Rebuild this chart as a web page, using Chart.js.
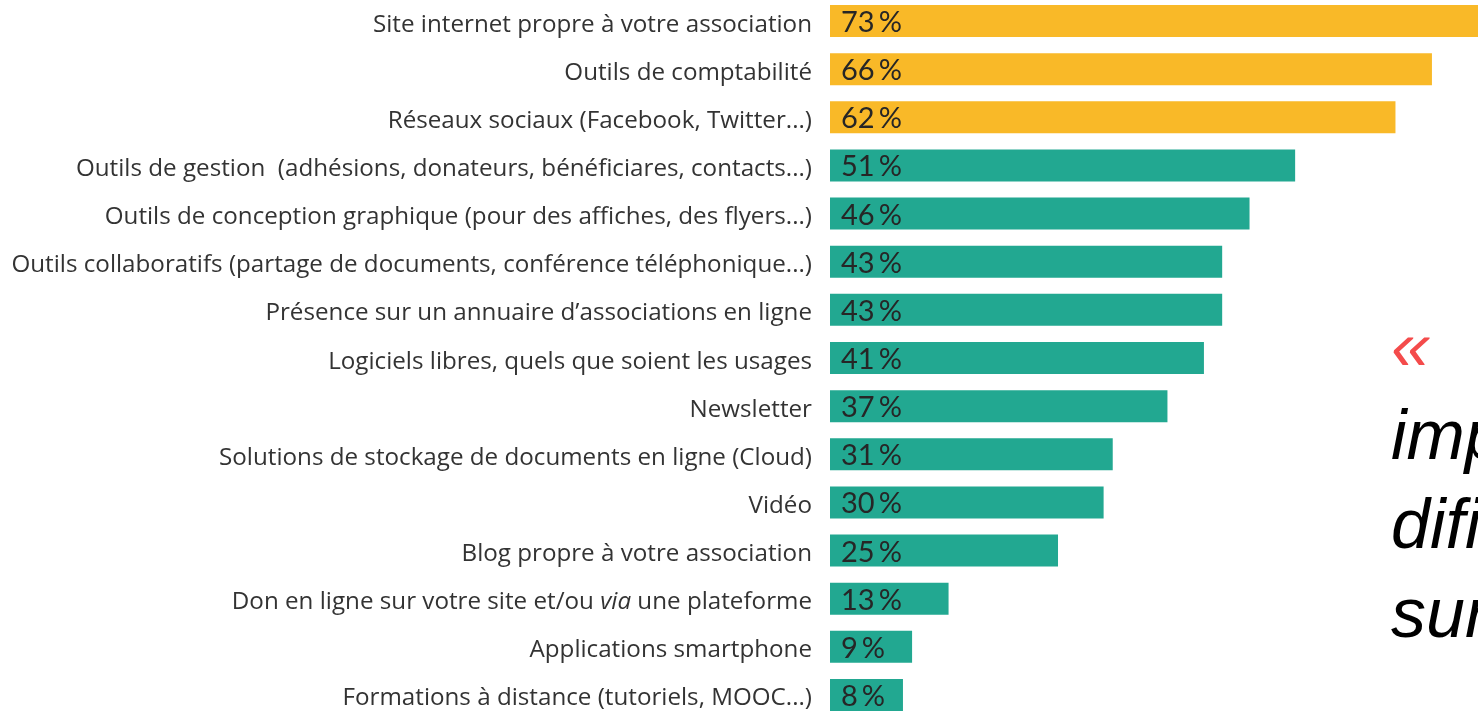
<!DOCTYPE html>
<html>
<head>
    <title>Outils numériques des associations</title>
    <script src="https://cdn.jsdelivr.net/npm/chart.js"></script>
    <style>
        html, body {
            margin: 0;
            padding: 0;
            background-color: #ffffff;
            overflow: hidden;
            width: 1478px;
            height: 711px;
        }
        .chart-container {
            position: absolute;
            left: 0;
            top: -3px;
            width: 1478px;
            height: 722px;
        }
        .quote {
            position: absolute;
            left: 1391px;
            top: 302px;
            font-family: "Liberation Sans", Arial, sans-serif;
            font-style: italic;
            font-size: 70px;
            line-height: 89px;
            color: #000000;
            white-space: nowrap;
        }
        .quote .mark {
            color: #f44b4b;
        }
    </style>
</head>
<body>
    <div class="chart-container">
        <canvas id="toolsChart"></canvas>
    </div>
    <div class="quote">
        <div><span class="mark">«</span>&nbsp;&nbsp;&nbsp;L’usage</div>
        <div>importantes</div>
        <div>dificultés</div>
        <div>sur</div>
    </div>

    <script>
        const labels = [
            'Site internet propre à votre association',
            'Outils de comptabilité',
            'Réseaux sociaux (Facebook, Twitter...)',
            'Outils de gestion  (adhésions, donateurs, bénéficiares, contacts...)',
            'Outils de conception graphique (pour des affiches, des flyers...)',
            'Outils collaboratifs (partage de documents, conférence téléphonique...)',
            'Présence sur un annuaire d’associations en ligne',
            'Logiciels libres, quels que soient les usages',
            'Newsletter',
            'Solutions de stockage de documents en ligne (Cloud)',
            'Vidéo',
            'Blog propre à votre association',
            'Don en ligne sur votre site et/ou via une plateforme',
            'Applications smartphone',
            'Formations à distance (tutoriels, MOOC...)'
        ];
        const values = [73, 66, 62, 51, 46, 43, 43, 41, 37, 31, 30, 25, 13, 9, 8];
        const topCount = 3; // the three most used tools are highlighted
        const italicWords = ['via'];

        const orange = '#f9b928';
        const teal = '#22a891';
        const barColors = values.map((v, i) => i < topCount ? orange : teal);

        const labelFont = '24.2px "Open Sans"';

        // category labels drawn by hand so that "via" can be set in italics
        const categoryLabels = {
            id: 'categoryLabels',
            afterDraw(chart) {
                const ctx = chart.ctx;
                const yScale = chart.scales.y;
                const right = chart.chartArea.left - 18;
                ctx.save();
                ctx.fillStyle = '#333333';
                ctx.textBaseline = 'alphabetic';
                ctx.textAlign = 'left';
                labels.forEach((label, i) => {
                    const y = yScale.getPixelForValue(i) + 10.5;
                    const parts = label.split(/(\bvia\b)/).filter(p => p.length);
                    const fonts = parts.map(p => italicWords.includes(p) ? 'italic ' + labelFont : labelFont);
                    let total = 0;
                    parts.forEach((p, k) => { ctx.font = fonts[k]; total += ctx.measureText(p).width; });
                    let x = right - total;
                    parts.forEach((p, k) => {
                        ctx.font = fonts[k];
                        ctx.fillText(p, x, y);
                        x += ctx.measureText(p).width;
                    });
                });
                ctx.restore();
            }
        };

        // percentage written at the start of each bar
        const valueLabels = {
            id: 'valueLabels',
            afterDatasetsDraw(chart) {
                const ctx = chart.ctx;
                const xScale = chart.scales.x;
                const yScale = chart.scales.y;
                ctx.save();
                ctx.font = '29px Lato';
                ctx.fillStyle = '#262626';
                ctx.textAlign = 'left';
                ctx.textBaseline = 'alphabetic';
                values.forEach((v, i) => {
                    const x = xScale.getPixelForValue(0) + 11;
                    const y = yScale.getPixelForValue(i) + 11;
                    const num = String(v);
                    ctx.fillText(num, x, y);
                    ctx.fillText('%', x + ctx.measureText(num).width + 4, y);
                });
                ctx.restore();
            }
        };

        const ctx = document.getElementById('toolsChart').getContext('2d');
        new Chart(ctx, {
            type: 'bar',
            data: {
                labels: labels,
                datasets: [{
                    data: values,
                    backgroundColor: barColors,
                    borderWidth: 0,
                    categoryPercentage: 1,
                    barPercentage: 0.665
                }]
            },
            options: {
                indexAxis: 'y',
                responsive: true,
                maintainAspectRatio: false,
                animation: false,
                layout: { padding: 0 },
                plugins: {
                    legend: { display: false },
                    tooltip: { enabled: false }
                },
                scales: {
                    x: {
                        display: false,
                        min: 0,
                        max: 71.05
                    },
                    y: {
                        grid: { display: false, drawTicks: false },
                        border: { display: false },
                        ticks: { display: false },
                        afterFit(scale) {
                            scale.width = 830;
                        }
                    }
                }
            },
            plugins: [categoryLabels, valueLabels]
        });
    </script>
</body>
</html>
